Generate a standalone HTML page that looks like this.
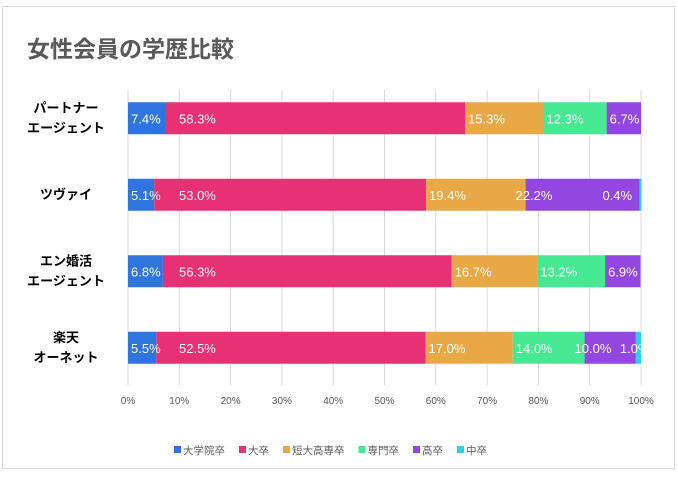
<!DOCTYPE html>
<html><head><meta charset="utf-8"><style>
body{margin:0;background:#fff;width:678px;height:473px;overflow:hidden}
svg text{font-family:"Liberation Sans","Noto Sans CJK JP",sans-serif}
</style></head><body>
<svg id="chart" width="678" height="473">
<rect x="2.5" y="6.5" width="672" height="462" fill="#fff" stroke="#d9d9d9"/>
<text x="27" y="57" font-size="23" font-weight="bold" fill="#595959">女性会員の学歴比較</text>
<g id="grid"></g><g id="bars"></g><g id="labels"></g><g id="legend"></g>
</svg>
<script>
const categories=[["パートナー","エージェント"],["ツヴァイ"],["エン婚活","エージェント"],["楽天","オーネット"]];
const seriesNames=["大学院卒","大卒","短大高専卒","専門卒","高卒","中卒"];
const colors=["#2e75e0","#e83075","#e8a846","#46e891","#9446e0","#2ecfe8"];
const s1=[7.4,5.1,6.8,5.5];
const s2=[58.3,53.0,56.3,52.5];
const s3=[15.3,19.4,16.7,17.0];
const s4=[12.3,0,13.2,14.0];
const s5=[6.7,22.2,6.9,10.0];
const s6=[0,0.4,0,1.0];
const ticks=[0,10,20,30,40,50,60,70,80,90,100];
const series=[s1,s2,s3,s4,s5,s6];
const NS="http://www.w3.org/2000/svg";
const x0=128,x1=641,yTop=90,yBot=385,band=76.5,barH=32;
const xs=v=>x0+(x1-x0)*v/100;
const yc=i=>yTop+band*(i+0.5)-10;
function mk(t,a,p){const e=document.createElementNS(NS,t);for(const k in a)e.setAttribute(k,a[k]);p.appendChild(e);return e;}
const grid=document.getElementById('grid'),bars=document.getElementById('bars'),labels=document.getElementById('labels'),legend=document.getElementById('legend');
ticks.forEach(t=>{
  const l=mk('line',{x1:xs(t),x2:xs(t),y1:yTop,y2:yBot,stroke:'#d9d9d9'},grid);
  
  
  const tx=mk('text',{x:xs(t),y:404,'font-size':10,fill:'#595959','text-anchor':'middle'},grid);
  tx.textContent=t+'%';
  
  
});
categories.forEach((c,i)=>{
  const y=yc(i);
  c.forEach((ln,j)=>{
    const t=mk('text',{x:66,y:y+4+(j-(c.length-1)/2)*20,'font-size':13,'font-weight':'bold',fill:'#000','text-anchor':'middle'},labels);
    t.textContent=ln;
    
    
  });
  let acc=0;
  series.forEach((s,k)=>{
    const v=s[i];if(v<=0)return;
    const r=mk('rect',{x:xs(acc),y:y-barH/2,width:xs(acc+v)-xs(acc),height:barH,fill:colors[k]},bars);
    
    
    let lx=xs(acc)+3;
    if(k==1)lx=Math.max(xs(acc)+8,179);
    if(k==4&&s[i]>=10&&s6[i]>0)lx=xs(acc)-10;
    if(k==5)lx=v<0.5?xs(acc)-37:xs(acc)-16;
    const t=mk('text',{x:lx,y:y+5,'font-size':13,fill:'#fff'},labels);
    t.textContent=v.toFixed(1)+'%';
    
    
    acc+=v;
  });
});
let lx=174;
seriesNames.forEach((n,k)=>{
  const r=mk('rect',{x:lx,y:446,width:7,height:7,fill:colors[k]},legend);
  
  
  const t=mk('text',{x:lx+9,y:454,'font-size':10.5,fill:'#595959'},legend);
  t.textContent=n;
  
  
  lx+=9+n.length*10.5+14;
});
</script>
</body></html>
